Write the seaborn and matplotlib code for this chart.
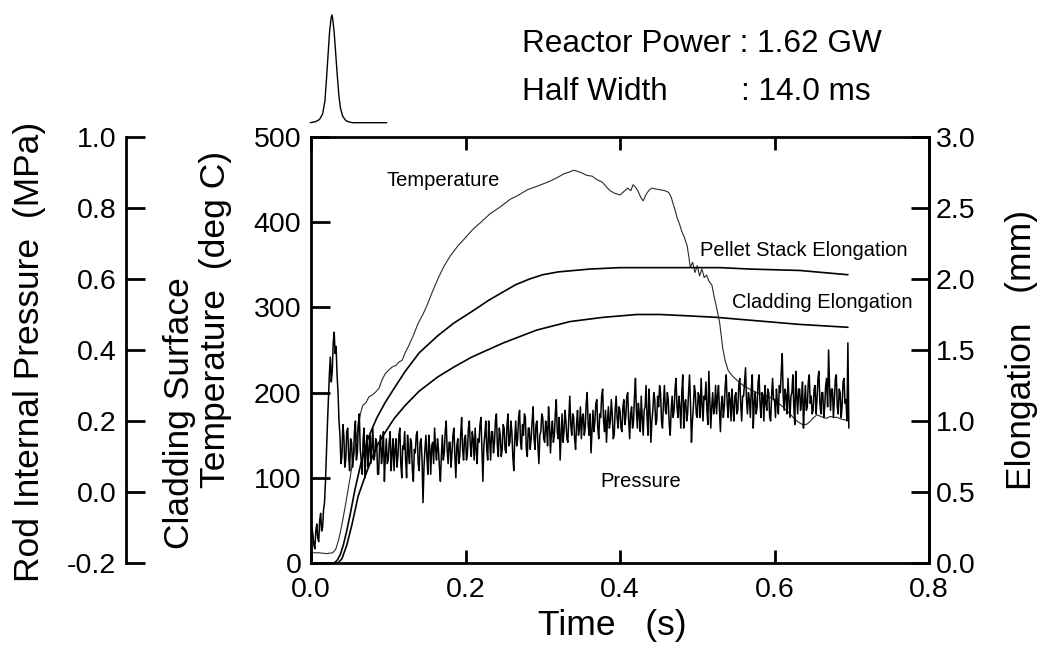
import numpy as np
import matplotlib
matplotlib.use("Agg")
import matplotlib.pyplot as plt
import seaborn as sns

# ---------------- data ----------------
x_ticks = [0.0, 0.2, 0.4, 0.6, 0.8]
temp_ticks = [0, 100, 200, 300, 400, 500]
press_ticks = [-0.2, 0.0, 0.2, 0.4, 0.6, 0.8, 1.0]
elong_ticks = [0.0, 0.5, 1.0, 1.5, 2.0, 2.5, 3.0]

# reactor power pulse (normalised)
pulse_time = [-0.001, 0.006, 0.011, 0.015, 0.018, 0.020, 0.022, 0.024, 0.026, 0.027, 0.028,
              0.030, 0.032, 0.034, 0.036, 0.038, 0.041, 0.045, 0.050, 0.054, 0.070, 0.098]
pulse_power = [0.00, 0.01, 0.03, 0.08, 0.20, 0.40, 0.62, 0.84, 0.97, 1.00, 0.97,
               0.84, 0.64, 0.44, 0.26, 0.14, 0.06, 0.02, 0.005, 0.0, 0.0, 0.0]

# cladding surface temperature (deg C)
temp_time = [0.000, 0.010, 0.020, 0.028, 0.032, 0.036, 0.040, 0.044, 0.048, 0.052,
             0.056, 0.061, 0.064, 0.067, 0.071, 0.075, 0.079, 0.083, 0.088, 0.092,
             0.096, 0.100, 0.105, 0.110, 0.114, 0.118, 0.122, 0.126, 0.132, 0.139,
             0.145, 0.150, 0.157, 0.165, 0.172, 0.180, 0.190, 0.200, 0.210, 0.220,
             0.232, 0.245, 0.258, 0.267, 0.280, 0.295, 0.309, 0.320, 0.328, 0.335,
             0.340, 0.344, 0.350, 0.357, 0.364, 0.370, 0.377, 0.383, 0.387, 0.393,
             0.400, 0.405, 0.410, 0.414, 0.417, 0.420, 0.423, 0.427, 0.430, 0.434,
             0.438, 0.441, 0.446, 0.452, 0.458, 0.463, 0.466, 0.469, 0.472, 0.474,
             0.477, 0.480, 0.483, 0.487, 0.489, 0.491, 0.494, 0.497, 0.500, 0.503,
             0.506, 0.509, 0.512, 0.515, 0.519, 0.522, 0.525, 0.529, 0.533, 0.536,
             0.540, 0.545, 0.552, 0.560, 0.570, 0.580, 0.590, 0.600, 0.611, 0.618,
             0.624, 0.630, 0.637, 0.642, 0.646, 0.650, 0.655, 0.660, 0.665, 0.668,
             0.672, 0.676, 0.681, 0.686, 0.690, 0.695]
temp_degC = [12, 12, 11, 12, 16, 28, 45, 65, 86, 108,
             130, 160, 175, 185, 188, 195, 197, 200, 205, 215,
             222, 226, 230, 232, 236, 238, 247, 254, 266, 282,
             292, 302, 318, 335, 348, 360, 372, 382, 392, 400,
             410, 418, 427, 431, 438, 443, 448, 453, 457, 459,
             461, 460, 458, 455, 454, 450, 447, 441, 437, 434,
             432, 436, 440, 437, 444, 441, 437, 429, 425, 433,
             438, 440, 439, 438, 437, 435, 430, 421, 412, 405,
             398, 389, 383, 372, 360, 347, 353, 341, 349, 337,
             345, 335, 338, 331, 326, 312, 300, 282, 252, 238,
             226, 220, 214, 208, 203, 199, 196, 192, 183, 177,
             171, 166, 162, 163, 166, 170, 174, 172, 170, 170,
             172, 171, 171, 169, 168, 168]

# pellet stack elongation (mm)
pellet_time = [0.000, 0.030, 0.034, 0.038, 0.042, 0.046, 0.051, 0.057, 0.065, 0.074,
               0.085, 0.096, 0.110, 0.122, 0.140, 0.164, 0.185, 0.208, 0.230, 0.249,
               0.265, 0.283, 0.300, 0.320, 0.361, 0.400, 0.452, 0.494, 0.530, 0.568,
               0.633, 0.695]
pellet_mm = [0.00, 0.00, 0.02, 0.06, 0.13, 0.22, 0.35, 0.52, 0.71, 0.88,
             1.02, 1.13, 1.25, 1.35, 1.48, 1.60, 1.69, 1.77, 1.85, 1.91,
             1.96, 2.00, 2.03, 2.05, 2.07, 2.08, 2.08, 2.08, 2.08, 2.07,
             2.06, 2.03]

# cladding elongation (mm)
clad_time = [0.000, 0.035, 0.040, 0.046, 0.053, 0.061, 0.070, 0.079, 0.087, 0.096,
             0.108, 0.122, 0.140, 0.164, 0.185, 0.208, 0.249, 0.292, 0.335, 0.378,
             0.422, 0.452, 0.490, 0.525, 0.568, 0.633, 0.695]
clad_mm = [0.00, 0.00, 0.03, 0.12, 0.27, 0.47, 0.61, 0.74, 0.84, 0.92,
           1.02, 1.11, 1.21, 1.31, 1.38, 1.45, 1.55, 1.64, 1.70, 1.73,
           1.75, 1.75, 1.74, 1.73, 1.71, 1.68, 1.66]

# rod internal pressure (MPa), sampled every 1.25 ms from t = 0
pressure_step_s = 0.00125
pressure_mpa = [
    # 0.00 - 0.05 s
    -0.15, -0.10, -0.12, -0.15, -0.16, -0.11, -0.09, -0.13, -0.14, -0.08,
    -0.06, -0.11, -0.10, -0.05, -0.03, 0.03, 0.11, 0.19, 0.26, 0.33,
    0.38, 0.31, 0.34, 0.42, 0.45, 0.39, 0.41, 0.33, 0.28, 0.20,
    0.16, 0.08, 0.10, 0.19, 0.16, 0.07, 0.09, 0.17, 0.18, 0.10,
    # 0.05 - 0.10 s
    0.06, 0.15, 0.14, 0.07, 0.10, 0.17, 0.20, 0.09, 0.11, 0.19,
    0.22, 0.12, 0.09, 0.05, 0.15, 0.18, 0.04, 0.12, 0.16, 0.07,
    0.12, 0.16, 0.08, 0.13, 0.18, 0.09, 0.10, 0.15, 0.14, 0.05,
    0.05, 0.13, 0.16, 0.08, 0.11, 0.17, 0.03, 0.10, 0.15, 0.08,
    # 0.10 - 0.15 s
    0.09, 0.14, 0.17, 0.06, 0.11, 0.15, 0.06, 0.12, 0.15, 0.07,
    0.10, 0.16, 0.18, 0.08, 0.04, 0.13, 0.12, 0.17, 0.09, 0.04,
    0.16, 0.11, 0.08, 0.15, 0.14, 0.06, 0.03, 0.12, 0.11, 0.16,
    0.17, 0.08, 0.06, 0.14, 0.15, 0.09, -0.03, 0.07, 0.12, 0.16,
    # 0.15 - 0.20 s
    0.10, 0.05, 0.16, 0.12, 0.05, 0.13, 0.14, 0.08, 0.18, 0.12,
    0.09, 0.15, 0.12, 0.07, 0.03, 0.10, 0.16, 0.09, 0.11, 0.17,
    0.20, 0.12, 0.08, 0.14, 0.14, 0.07, 0.11, 0.16, 0.18, 0.10,
    0.04, 0.13, 0.15, 0.08, 0.10, 0.16, 0.21, 0.12, 0.09, 0.15,
    # 0.20 - 0.25 s
    0.16, 0.09, 0.11, 0.18, 0.20, 0.13, 0.10, 0.17, 0.15, 0.09,
    0.18, 0.12, 0.08, 0.15, 0.14, 0.19, 0.21, 0.12, 0.03, 0.13,
    0.16, 0.20, 0.12, 0.09, 0.20, 0.15, 0.09, 0.17, 0.17, 0.11,
    0.14, 0.20, 0.22, 0.13, 0.10, 0.18, 0.16, 0.10, 0.12, 0.19,
    # 0.25 - 0.30 s
    0.18, 0.12, 0.11, 0.19, 0.22, 0.13, 0.14, 0.20, 0.17, 0.10,
    0.06, 0.15, 0.20, 0.13, 0.15, 0.21, 0.23, 0.14, 0.12, 0.19,
    0.16, 0.22, 0.21, 0.12, 0.10, 0.18, 0.18, 0.12, 0.15, 0.20,
    0.24, 0.15, 0.12, 0.19, 0.20, 0.13, 0.08, 0.16, 0.17, 0.22,
    # 0.30 - 0.35 s
    0.21, 0.15, 0.14, 0.20, 0.18, 0.13, 0.24, 0.19, 0.11, 0.17,
    0.20, 0.14, 0.16, 0.22, 0.26, 0.17, 0.15, 0.21, 0.09, 0.16,
    0.22, 0.14, 0.17, 0.23, 0.20, 0.15, 0.14, 0.21, 0.27, 0.19,
    0.16, 0.22, 0.21, 0.15, 0.12, 0.19, 0.23, 0.16, 0.18, 0.24,
    # 0.35 - 0.40 s
    0.15, 0.21, 0.22, 0.16, 0.18, 0.25, 0.28, 0.19, 0.16, 0.22,
    0.11, 0.17, 0.23, 0.17, 0.20, 0.25, 0.26, 0.18, 0.15, 0.22,
    0.21, 0.27, 0.29, 0.20, 0.17, 0.23, 0.14, 0.20, 0.24, 0.18,
    0.20, 0.26, 0.22, 0.15, 0.16, 0.23, 0.27, 0.21, 0.18, 0.24,
    # 0.40 - 0.45 s
    0.23, 0.18, 0.17, 0.24, 0.26, 0.19, 0.21, 0.27, 0.28, 0.20,
    0.15, 0.22, 0.24, 0.18, 0.20, 0.27, 0.32, 0.23, 0.18, 0.25,
    0.22, 0.17, 0.27, 0.21, 0.16, 0.23, 0.24, 0.30, 0.21, 0.16,
    0.29, 0.23, 0.14, 0.20, 0.23, 0.28, 0.26, 0.19, 0.20, 0.27,
    # 0.45 - 0.50 s
    0.24, 0.30, 0.28, 0.20, 0.18, 0.25, 0.30, 0.23, 0.22, 0.28,
    0.26, 0.19, 0.16, 0.23, 0.27, 0.21, 0.23, 0.29, 0.32, 0.24,
    0.21, 0.27, 0.24, 0.18, 0.28, 0.33, 0.18, 0.25, 0.26, 0.20,
    0.22, 0.28, 0.33, 0.25, 0.14, 0.20, 0.24, 0.30, 0.28, 0.22,
    # 0.50 - 0.55 s
    0.21, 0.28, 0.27, 0.21, 0.32, 0.25, 0.20, 0.27, 0.26, 0.31,
    0.23, 0.19, 0.34, 0.26, 0.18, 0.24, 0.28, 0.22, 0.24, 0.30,
    0.22, 0.27, 0.30, 0.23, 0.17, 0.25, 0.27, 0.21, 0.24, 0.30,
    0.33, 0.25, 0.21, 0.28, 0.26, 0.20, 0.29, 0.24, 0.20, 0.27,
    # 0.55 - 0.60 s
    0.28, 0.22, 0.23, 0.30, 0.32, 0.25, 0.20, 0.27, 0.27, 0.31,
    0.35, 0.26, 0.22, 0.28, 0.26, 0.21, 0.29, 0.33, 0.18, 0.25,
    0.28, 0.22, 0.24, 0.31, 0.33, 0.25, 0.21, 0.28, 0.27, 0.20,
    0.30, 0.25, 0.23, 0.29, 0.28, 0.21, 0.20, 0.27, 0.32, 0.26,
    # 0.60 - 0.65 s
    0.26, 0.21, 0.29, 0.25, 0.22, 0.30, 0.28, 0.34, 0.39, 0.27,
    0.23, 0.29, 0.27, 0.22, 0.32, 0.26, 0.21, 0.27, 0.28, 0.33,
    0.24, 0.19, 0.34, 0.27, 0.22, 0.29, 0.29, 0.23, 0.26, 0.31,
    0.18, 0.25, 0.30, 0.23, 0.24, 0.31, 0.33, 0.25, 0.27, 0.22,
    # 0.65 - 0.696 s
    0.23, 0.29, 0.30, 0.22, 0.26, 0.32, 0.34, 0.25, 0.22, 0.28,
    0.28, 0.21, 0.24, 0.30, 0.32, 0.24, 0.40, 0.30, 0.23, 0.29,
    0.29, 0.21, 0.26, 0.32, 0.33, 0.24, 0.22, 0.29, 0.28, 0.21,
    0.24, 0.31, 0.32, 0.25, 0.26, 0.20, 0.42, 0.18,
]
pressure_time = np.arange(len(pressure_mpa)) * pressure_step_s

# ---------------- style ----------------
sns.set_theme(style="ticks")
plt.rcParams["font.family"] = ["Liberation Sans", "DejaVu Sans"]
plt.rcParams["axes.unicode_minus"] = False
for key in ["text.color", "axes.labelcolor", "xtick.color", "ytick.color", "axes.edgecolor"]:
    plt.rcParams[key] = "black"

TICK_FS = 20.5
LABEL_FS = 25.5
SPINE_W = 2.0

W_PX, H_PX = 1042, 645
fig = plt.figure(figsize=(W_PX / 100, H_PX / 100), dpi=100)
fig.patch.set_facecolor("white")

def fx(px):
    return px / W_PX

def fy(py):
    return (H_PX - py) / H_PX

L, R, T, B = 311, 929, 137, 563
ax = fig.add_axes([fx(L), fy(B), fx(R) - fx(L), fy(T) - fy(B)])
ax.set_facecolor("white")

# temperature (left main axis)
sns.lineplot(x=temp_time, y=temp_degC, ax=ax, color="#2a2a2a", lw=0.8,
             estimator=None, sort=False)
ax.set_xlim(0, 0.8)
ax.set_ylim(0, 500)
ax.set_xticks(x_ticks)
ax.set_xticklabels([f"{v:.1f}" for v in x_ticks])
ax.set_yticks(temp_ticks)
ax.set_yticklabels([f"{v:d}" for v in temp_ticks])
ax.set_xlabel("")
ax.set_ylabel("")
ax.tick_params(axis="x", direction="in", length=9.5, width=SPINE_W, top=True,
               bottom=True, labelsize=TICK_FS, pad=10, colors="black")
ax.tick_params(axis="y", direction="in", length=14, width=SPINE_W, left=True,
               right=False, labelsize=TICK_FS, pad=7, colors="black")
for s in ax.spines.values():
    s.set_linewidth(SPINE_W)
    s.set_color("black")

# elongation (right axis)
ax_e = ax.twinx()
sns.lineplot(x=pellet_time, y=pellet_mm, ax=ax_e, color="black", lw=1.2,
             estimator=None, sort=False)
sns.lineplot(x=clad_time, y=clad_mm, ax=ax_e, color="black", lw=1.2,
             estimator=None, sort=False)
ax_e.set_ylim(0, 3.0)
ax_e.set_yticks(elong_ticks)
ax_e.set_yticklabels([f"{v:.1f}" for v in elong_ticks])
ax_e.set_ylabel("")
ax_e.tick_params(axis="y", direction="in", length=13, width=SPINE_W,
                 labelsize=TICK_FS, pad=5, colors="black")
for k, s in ax_e.spines.items():
    s.set_linewidth(SPINE_W)
    s.set_color("black")
    s.set_visible(k == "right")

# pressure (detached left axis)
ax_p = ax.twinx()
sns.lineplot(x=pressure_time, y=pressure_mpa, ax=ax_p, color="black", lw=1.1,
             estimator=None, sort=False)
ax_p.set_ylim(-0.2, 1.0)
ax_p.yaxis.tick_left()
ax_p.set_yticks(press_ticks)
ax_p.set_yticklabels([f"{v:.1f}" for v in press_ticks])
ax_p.set_ylabel("")
ax_p.spines["left"].set_position(("axes", (126 - L) / (R - L)))
for k, s in ax_p.spines.items():
    s.set_linewidth(SPINE_W)
    s.set_color("black")
    s.set_visible(k == "left")
ax_p.tick_params(axis="y", direction="in", length=13.5, width=SPINE_W,
                 labelsize=TICK_FS, pad=7, colors="black")

# curve annotations (data coordinates of main axis)
ax.text(0.098, 449, "Temperature", fontsize=14.5, ha="left", va="center")
ax.text(0.5036, 367, "Pellet Stack Elongation", fontsize=14.5, ha="left", va="center")
ax.text(0.545, 306, "Cladding Elongation", fontsize=14.5, ha="left", va="center")
ax.text(0.374, 96, "Pressure", fontsize=14.5, ha="left", va="center")

# power pulse inset (same time scale)
ax_in = fig.add_axes([fx(L), fy(122.7), fx(R) - fx(L), fy(15) - fy(122.7)])
sns.lineplot(x=pulse_time, y=pulse_power, ax=ax_in, color="black", lw=1.0,
             estimator=None, sort=False)
ax_in.set_xlim(0, 0.8)
ax_in.set_ylim(0, 1)
ax_in.axis("off")
for ln in ax_in.lines:
    ln.set_clip_on(False)

# header text
fig.text(fx(522), fy(52), "Reactor Power : 1.62 GW", fontsize=22.7, va="baseline", ha="left")
fig.text(fx(522), fy(100), "Half Width", fontsize=22.7, va="baseline", ha="left")
fig.text(fx(741), fy(100), ": 14.0 ms", fontsize=22.7, va="baseline", ha="left")

# axis titles
fig.text(fx(30), fy(352), "Rod Internal Pressure  (MPa)", rotation=90,
         fontsize=LABEL_FS, ha="center", va="center")
fig.text(fx(179), fy(413), "Cladding Surface", rotation=90,
         fontsize=LABEL_FS, ha="center", va="center")
fig.text(fx(215), fy(319), "Temperature  (deg C)", rotation=90,
         fontsize=LABEL_FS, ha="center", va="center")
fig.text(fx(1022), fy(350), "Elongation   (mm)", rotation=90,
         fontsize=LABEL_FS, ha="center", va="center")
fig.text(fx(612), fy(626), "Time   (s)", fontsize=LABEL_FS, ha="center", va="center")

fig.savefig("out.png", dpi=100, facecolor="white")
